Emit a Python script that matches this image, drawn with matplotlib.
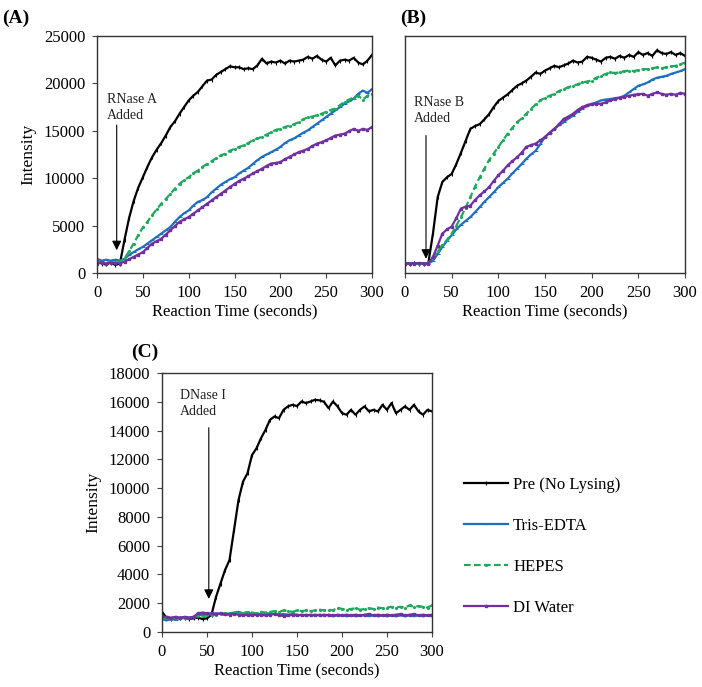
import matplotlib
matplotlib.use("Agg")
import matplotlib.pyplot as plt
import numpy as np

plt.rcParams['font.family'] = ['Liberation Serif', 'DejaVu Serif']

time_s = list(range(0, 301, 5))

# Panel A (RNase A)
a_pre = [1300, 1000, 900, 1100, 850, 1000, 3500, 5800, 7600, 9000, 10100, 11200, 12200, 13000, 13700, 14500,
         15400, 16000, 16800, 17500, 18200, 18700, 19100, 19700, 20300, 20400, 20900, 21200, 21500, 21800, 21700,
         21700, 21500, 21600, 21500, 21900, 22600, 22100, 22300, 22200, 22400, 22100, 22400, 22300, 22400, 22500,
         22800, 22600, 22900, 22500, 22300, 22700, 21900, 22400, 22500, 22400, 22700, 22200, 22000, 22400, 23000]
a_tris = [1500, 1300, 1400, 1300, 1400, 1300, 1500, 1900, 2200, 2500, 2750, 3100, 3450, 3800, 4150, 4500,
          4850, 5400, 5900, 6300, 6600, 7100, 7500, 7700, 8000, 8500, 8900, 9300, 9600, 9900, 10100,
          10500, 10800, 11100, 11500, 11900, 12250, 12500, 12750, 13000, 13300, 13700, 14000, 14200, 14500, 14800,
          15050, 15400, 15750, 16100, 16450, 16800, 17150, 17500, 17850, 18100, 18400, 18900, 19250, 19000, 19400]
a_hepes = [1200, 1100, 1100, 1150, 1150, 1200, 1500, 2300, 3100, 4000, 4800, 5400, 6100, 6700, 7300, 7800,
           8350, 8900, 9400, 9800, 10100, 10500, 10800, 11200, 11500, 11800, 12100, 12400, 12600, 12900, 13100,
           13300, 13450, 13700, 14000, 14200, 14350, 14600, 14850, 15100, 15200, 15400, 15550, 15700, 15900, 16200,
           16450, 16500, 16650, 16800, 17000, 17200, 17350, 17700, 18050, 18300, 18500, 18700, 18300, 18700, 18900]
a_water = [1000, 1100, 1000, 1100, 1050, 1000, 1200, 1450, 1700, 1950, 2200, 2650, 3100, 3350, 3600, 4050,
           4500, 4950, 5400, 5650, 5900, 6250, 6600, 6950, 7300, 7650, 8000, 8350, 8700, 9050, 9400,
           9700, 9950, 10200, 10500, 10750, 11000, 11300, 11550, 11600, 11700, 12000, 12250, 12500, 12750, 12900,
           13100, 13400, 13650, 13800, 14000, 14250, 14500, 14600, 14700, 14950, 15200, 15000, 15200, 15100, 15400]

# Panel B (RNase B)
b_pre = [1000, 1000, 1050, 1000, 1000, 1050, 4200, 8000, 9600, 10100, 10450, 11500, 12700, 13950, 15200, 15500,
         15700, 16200, 16750, 17500, 18150, 18500, 18850, 19300, 19750, 20000, 20300, 20700, 21150, 21000, 21350,
         21600, 21850, 21700, 21900, 22100, 22400, 22200, 22300, 22800, 22700, 22500, 22300, 22700, 22800, 22600,
         22900, 22700, 23000, 22800, 23300, 23000, 23200, 22900, 23500, 23200, 23100, 23300, 23000, 23200, 22900]
b_tris = [1000, 1050, 1000, 1000, 1050, 1000, 1300, 2000, 2750, 3400, 4000, 4600, 5100, 5500, 5900, 6400,
          6950, 7500, 8000, 8500, 9050, 9500, 9950, 10500, 11000, 11500, 12050, 12500, 12900, 13600, 14350,
          14800, 15200, 15600, 15900, 16300, 16600, 17000, 17350, 17600, 17800, 18000, 18200, 18300, 18350, 18450,
          18500, 18700, 19050, 19400, 19750, 19900, 20100, 20400, 20600, 20700, 20800, 21000, 21150, 21300, 21500]
b_hepes = [1000, 1000, 1000, 1000, 1000, 1050, 1700, 2300, 2950, 3500, 4150, 5000, 5900, 6900, 8000, 9100,
           10100, 11000, 11900, 12600, 13300, 14000, 14700, 15300, 15900, 16300, 16800, 17300, 17800, 18200, 18500,
           18700, 18900, 19200, 19400, 19600, 19750, 19900, 20100, 20200, 20300, 20600, 20800, 21000, 21150, 21100,
           21150, 21300, 21350, 21300, 21400, 21500, 21500, 21600, 21700, 21600, 21700, 21800, 21850, 22000, 22200]
b_water = [1000, 1000, 1000, 1050, 1000, 1000, 1700, 2900, 4150, 4600, 4900, 5800, 6800, 7000, 7100, 7700,
           8200, 8600, 9050, 9700, 10300, 10800, 11350, 11800, 12200, 12700, 13300, 13500, 13650, 14000, 14350,
           14800, 15200, 15700, 16250, 16500, 16800, 17200, 17500, 17700, 17850, 17850, 17850, 18000, 18200, 18350,
           18500, 18600, 18700, 18800, 18850, 18900, 18700, 18900, 19050, 18900, 18800, 18900, 18800, 19000, 18900]

# Panel C (DNase I)
c_pre = [1400, 1000, 900, 1000, 950, 1000, 900, 950, 1000, 900, 950, 1200, 2440, 3370, 4300, 5000,
         7080, 9170, 10450, 11030, 12300, 12770, 13470, 14050, 14750, 14980, 14860, 15440, 15680, 15790, 15700,
         16020, 15910, 16020, 16140, 16100, 16000, 15560, 16020, 15680, 15210, 15100, 15440, 15100, 15440, 15680,
         15330, 15440, 15330, 15790, 15440, 15910, 15210, 15440, 15680, 15440, 15790, 15330, 15100, 15440, 15330]
c_tris = [900, 800, 900, 850, 1000, 950, 1000, 1050, 1150, 1200, 1250, 1200, 1300, 1250, 1200, 1300,
          1350, 1400, 1300, 1350, 1250, 1300, 1200, 1250, 1300, 1250, 1200, 1250, 1200, 1250, 1200,
          1150, 1200, 1150, 1200, 1150, 1200, 1150, 1100, 1150, 1150, 1100, 1150, 1100, 1150, 1150,
          1100, 1150, 1100, 1150, 1100, 1150, 1100, 1150, 1100, 1150, 1100, 1150, 1100, 1150, 1100]
c_hepes = [1000, 950, 900, 1000, 950, 1000, 1000, 1050, 1100, 1100, 1150, 1150, 1200, 1250, 1300, 1250,
           1300, 1350, 1300, 1400, 1350, 1300, 1400, 1350, 1400, 1450, 1400, 1500, 1450, 1400, 1500,
           1450, 1500, 1450, 1500, 1550, 1500, 1550, 1500, 1700, 1600, 1550, 1600, 1650, 1550, 1600,
           1650, 1600, 1700, 1650, 1700, 1750, 1700, 1750, 1700, 1850, 1750, 1800, 1750, 1700, 1850]
c_water = [1100, 1050, 1000, 1050, 1000, 1050, 1000, 1050, 1300, 1350, 1300, 1300, 1250, 1300, 1250, 1200,
           1250, 1200, 1150, 1200, 1150, 1200, 1200, 1150, 1200, 1250, 1200, 1100, 1150, 1200, 1150,
           1200, 1150, 1200, 1150, 1200, 1150, 1200, 1150, 1200, 1150, 1200, 1150, 1200, 1150, 1200,
           1250, 1150, 1200, 1150, 1200, 1150, 1200, 1250, 1150, 1200, 1250, 1150, 1200, 1150, 1200]

series_labels = ["Pre (No Lysing)", "Tris-EDTA", "HEPES", "DI Water"]
series_colors = ["#000000", "#1F6FBF", "#1DAA5C", "#7030A0"]

W, H = 702, 687
fig = plt.figure(figsize=(W / 100, H / 100), dpi=100)

def box(l, t, r, b):
    return [l / W, 1 - b / H, (r - l) / W, (b - t) / H]

axA = fig.add_axes(box(97, 36, 372, 273))
axB = fig.add_axes(box(405, 36, 685, 273))
axC = fig.add_axes(box(162, 373, 432, 632))

styles = [dict(ls='-', marker='|', ms=2.5, mew=0.8),
          dict(ls='-', marker='_', ms=2.5, mew=0.8),
          dict(ls=(0, (3, 1.5)), marker='.', ms=2.5),
          dict(ls='-', marker='s', ms=2.0)]

def draw(ax, data, ymax, ystep, show_yticklabels=True):
    handles = []
    for d, lab, col, st in zip(data, series_labels, series_colors, styles):
        h, = ax.plot(time_s, d, color=col, lw=1.6, label=lab, **st)
        handles.append(h)
    ax.set_xlim(0, 300)
    ax.set_ylim(0, ymax)
    ax.set_xticks(range(0, 301, 50))
    ax.set_yticks(range(0, ymax + 1, ystep))
    ax.tick_params(labelsize=12, length=3.5, width=0.8, direction='out', color='#444444')
    ax.tick_params(axis='x', pad=5)
    ax.tick_params(axis='y', pad=5)
    for sp in ax.spines.values():
        sp.set_linewidth(1.0)
        sp.set_color('#333333')
    ax.set_xlabel("Reaction Time (seconds)", fontsize=12, labelpad=2)
    if show_yticklabels:
        ax.set_ylabel("Intensity", fontsize=12.5, labelpad=5)
    else:
        ax.set_yticklabels([])
        ax.tick_params(axis='y', length=0)
    return handles

draw(axA, [a_pre, a_tris, a_hepes, a_water], 25000, 5000)
draw(axB, [b_pre, b_tris, b_hepes, b_water], 25000, 5000, show_yticklabels=False)
handles = draw(axC, [c_pre, c_tris, c_hepes, c_water], 18000, 2000)

def annot(ax, text, tx, ty, ax_x, y_top, y_tip):
    ax.text(tx, ty, text, fontsize=10, ha='left', va='bottom', linespacing=1.3, color='#222222')
    ax.annotate('', xy=(ax_x, y_tip), xytext=(ax_x, y_top),
                arrowprops=dict(arrowstyle='-|>', color='black', lw=0.8,
                                mutation_scale=14, shrinkA=0, shrinkB=0))

annot(axA, "RNase A\nAdded", 11, 15900, 21.5, 15600, 2400)
annot(axB, "RNase B\nAdded", 9.5, 15600, 22.5, 14500, 1500)
annot(axC, "DNase I\nAdded", 19.5, 14900, 52, 14200, 2300)

fig.text(2 / W, 1 - 18 / H, "(A)", fontsize=14, fontweight='bold', va='center', ha='left')
fig.text(400 / W, 1 - 18 / H, "(B)", fontsize=14, fontweight='bold', va='center', ha='left')
fig.text(131 / W, 1 - 352 / H, "(C)", fontsize=14, fontweight='bold', va='center', ha='left')

fig.legend(handles=handles, labels=series_labels, loc='upper left',
           bbox_to_anchor=(449 / W, 1 - 462 / H), frameon=False, fontsize=12,
           handlelength=2.65, handletextpad=0.3, labelspacing=1.5, markerscale=1.0)

fig.savefig("out.png", dpi=100)
